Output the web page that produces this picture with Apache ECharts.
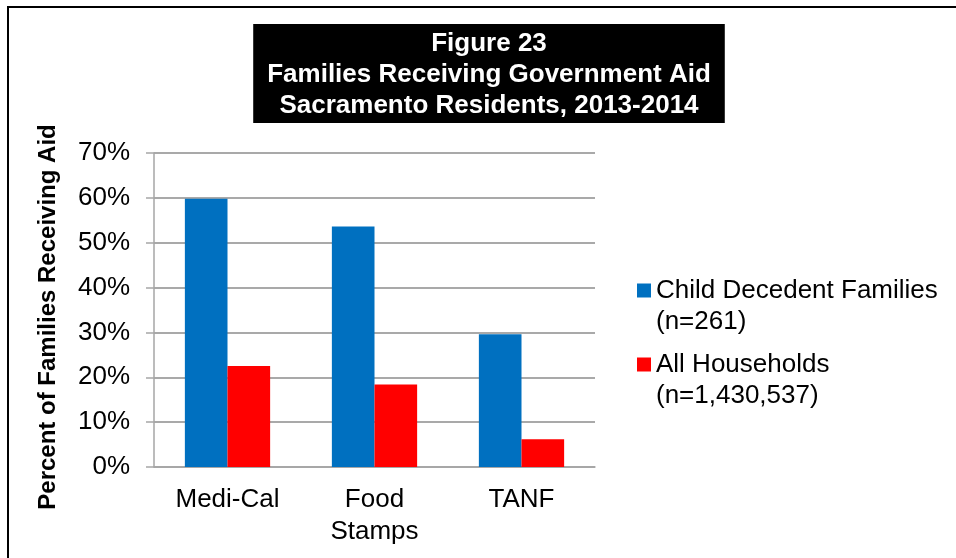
<!DOCTYPE html>
<html>
<head>
<meta charset="utf-8">
<script src="https://cdn.jsdelivr.net/npm/echarts@6/dist/echarts.min.js"></script>
<style>
html,body{margin:0;padding:0;background:#fff;}
#chart{width:956px;height:558px;}
</style>
</head>
<body>
<div id="chart"></div>
<script>
const categories = ['Medi-Cal', 'Food\nStamps', 'TANF'];
const childDecedentFamilies = [59.8, 53.6, 29.6];
const allHouseholds = [22.5, 18.4, 6.2];
const seriesNames = ['Child Decedent Families', 'All Households'];
const seriesSubLabels = ['(n=261)', '(n=1,430,537)'];
const yTicks = [0, 10, 20, 30, 40, 50, 60, 70];
const titleLines = ['Figure 23', 'Families Receiving Government Aid', 'Sacramento Residents, 2013-2014'];
const yAxisTitle = 'Percent of Families Receiving Aid';

const FONT = '"Liberation Sans", Arial, sans-serif';
const chart = echarts.init(document.getElementById('chart'), null, {renderer: 'canvas'});

function legendFor(idx, top) {
  return {
    show: true,
    data: [seriesNames[idx]],
    left: 637,
    top: top,
    padding: 0,
    orient: 'vertical',
    itemWidth: 14,
    itemHeight: 14,
    itemGap: 0,
    icon: 'rect',
    selectedMode: false,
    formatter: function (name) {
      return ' \n' + name + '\n' + seriesSubLabels[seriesNames.indexOf(name)];
    },
    textStyle: {
      fontFamily: FONT,
      fontSize: 26,
      color: '#000',
      lineHeight: 31
    }
  };
}

const option = {
  animation: false,
  backgroundColor: '#fff',
  title: {
    text: titleLines.join('\n'),
    left: 475,
    top: 24,
    padding: [4, 14, 2, 14],
    backgroundColor: '#000',
    textAlign: 'center',
    textStyle: {
      fontFamily: FONT,
      fontSize: 26,
      fontWeight: 'bold',
      color: '#fff',
      lineHeight: 31
    }
  },
  graphic: [{
    type: 'rect',
    shape: {x: 8, y: 7, width: 1200, height: 1200},
    style: {fill: 'none', stroke: '#000', lineWidth: 2},
    silent: true,
    z: 100
  }],
  legend: [legendFor(0, 290.5 - 46.5), legendFor(1, 364.5 - 46.5)],
  grid: {left: 154, right: 361, top: 153, bottom: 91, containLabel: false},
  xAxis: {
    type: 'category',
    data: categories,
    axisLine: {show: true, lineStyle: {color: '#a6a6a6', width: 1.5}},
    axisTick: {show: false},
    axisLabel: {
      fontFamily: FONT, fontSize: 26, color: '#000', margin: 17, lineHeight: 32
    }
  },
  yAxis: {
    type: 'value',
    min: 0,
    max: 70,
    interval: 10,
    name: yAxisTitle,
    nameLocation: 'middle',
    nameGap: 94,
    nameTextStyle: {
      fontFamily: FONT, fontSize: 24, fontWeight: 'bold', color: '#000',
      padding: [0, 14, 0, 0]
    },
    axisLine: {show: true, lineStyle: {color: '#a6a6a6', width: 1.5}},
    axisTick: {show: true, length: 8, lineStyle: {color: '#a6a6a6', width: 1.5}},
    splitLine: {show: true, lineStyle: {color: '#8c8c8c', width: 1.5}},
    axisLabel: {
      fontFamily: FONT, fontSize: 26, color: '#000', margin: 24,
      formatter: function (v) { return yTicks.indexOf(v) >= 0 ? v + '%' : ''; }
    }
  },
  series: [{
    name: seriesNames[0],
    type: 'bar',
    data: childDecedentFamilies,
    itemStyle: {color: '#0070C0'},
    barGap: '0%',
    barCategoryGap: '42%'
  }, {
    name: seriesNames[1],
    type: 'bar',
    data: allHouseholds,
    itemStyle: {color: '#FF0000'},
    barGap: '0%',
    barCategoryGap: '42%'
  }]
};
chart.setOption(option);
</script>
</body>
</html>
